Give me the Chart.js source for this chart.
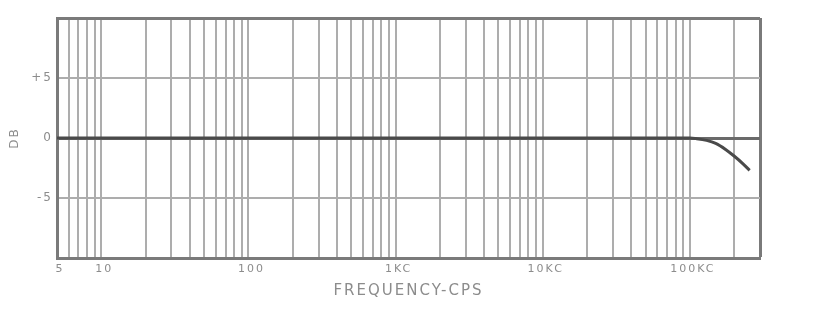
<!DOCTYPE html>
<html>
<head>
<meta charset="utf-8">
<script src="https://cdn.jsdelivr.net/npm/chart.js@4.4.0/dist/chart.umd.min.js"></script>
<style>
  html, body { margin: 0; padding: 0; background: #fff; overflow: hidden; }
  #wrap { width: 838px; height: 318px; }
</style>
</head>
<body>
<div id="wrap"><canvas id="grafico" width="838" height="318"></canvas></div>
<script>
// dati della curva (frequenza in cps, risposta in dB)
const freqs = [5, 1000, 100000, 110000, 130000, 150000, 175000, 200000, 230000, 255000]
const dbValues = [0, 0, 0, -0.05, -0.2, -0.45, -0.95, -1.5, -2.15, -2.7]

// righe verticali della carta logaritmica
const xGrid = [5, 6, 7, 8, 9, 10, 20, 30, 40, 50, 60, 70, 80, 90, 100,
  200, 300, 400, 500, 600, 700, 800, 900, 1000,
  2000, 3000, 4000, 5000, 6000, 7000, 8000, 9000, 10000,
  20000, 30000, 40000, 50000, 60000, 70000, 80000, 90000, 100000,
  200000, 300000]
const xTickLabels = {5: '5', 10: '10', 100: '100', 1000: '1KC', 10000: '10KC', 100000: '100KC'}
const yTickLabels = {5: '+5', 0: '0', '-5': '-5'}

const grigio = '#adadad'
const scuro = '#7a7a7a'
const testo = '#8c8c8c'

// lettere spaziate come nel disegno originale
const spaziatura = {
  id: 'spaziatura',
  beforeDraw: (chart) => { chart.ctx.letterSpacing = '2px' }
}

new Chart(document.querySelector('#grafico'), {
  type: 'line',
  data: {
    datasets: [{
      data: freqs.map((f, i) => ({x: f, y: dbValues[i]})),
      borderColor: '#4a4a4a',
      borderWidth: 3,
      pointRadius: 0,
      cubicInterpolationMode: 'monotone',
      fill: false
    }]
  },
  plugins: [spaziatura],
  options: {
    responsive: false,
    animation: false,
    layout: {padding: {top: 18, right: 78, left: 0, bottom: 0}},
    plugins: {legend: {display: false}, tooltip: {enabled: false}},
    scales: {
      x: {
        type: 'logarithmic',
        min: 5,
        max: 300000,
        afterBuildTicks: (scale) => { scale.ticks = xGrid.map(v => ({value: v})) },
        afterFit: (scale) => { scale.height = 60 },
        border: {color: scuro, width: 3},
        grid: {
          color: (ctx) => ctx.tick && ctx.tick.value === 300000 ? scuro : grigio,
          lineWidth: (ctx) => ctx.tick && ctx.tick.value === 300000 ? 3 : 2,
          drawTicks: false
        },
        ticks: {
          autoSkip: false,
          maxRotation: 0,
          padding: 5,
          labelOffset: 3,
          color: testo,
          font: {family: 'DejaVu Sans', size: 11},
          callback: (v) => xTickLabels[v] || ''
        },
        title: {
          display: true,
          text: 'FREQUENCY-CPS',
          color: testo,
          font: {family: 'DejaVu Sans', size: 15},
          padding: {top: 0, bottom: 18}
        }
      },
      y: {
        min: -10,
        max: 10,
        afterFit: (scale) => { scale.width = 57 },
        border: {color: scuro, width: 3},
        grid: {
          color: (ctx) => {
            if (!ctx.tick) return grigio
            if (ctx.tick.value === 0) return '#6a6a6a'
            if (ctx.tick.value === 10) return scuro
            return grigio
          },
          lineWidth: (ctx) => ctx.tick && (ctx.tick.value === 0 || ctx.tick.value === 10) ? 3 : 2,
          drawTicks: false
        },
        ticks: {
          stepSize: 5,
          padding: 4,
          color: testo,
          font: {family: 'DejaVu Sans', size: 12},
          callback: (v) => yTickLabels[v] || ''
        },
        title: {
          display: true,
          text: 'DB',
          color: testo,
          font: {family: 'DejaVu Sans', size: 12},
          padding: {top: 8, bottom: 0}
        }
      }
    }
  }
})
</script>
</body>
</html>
